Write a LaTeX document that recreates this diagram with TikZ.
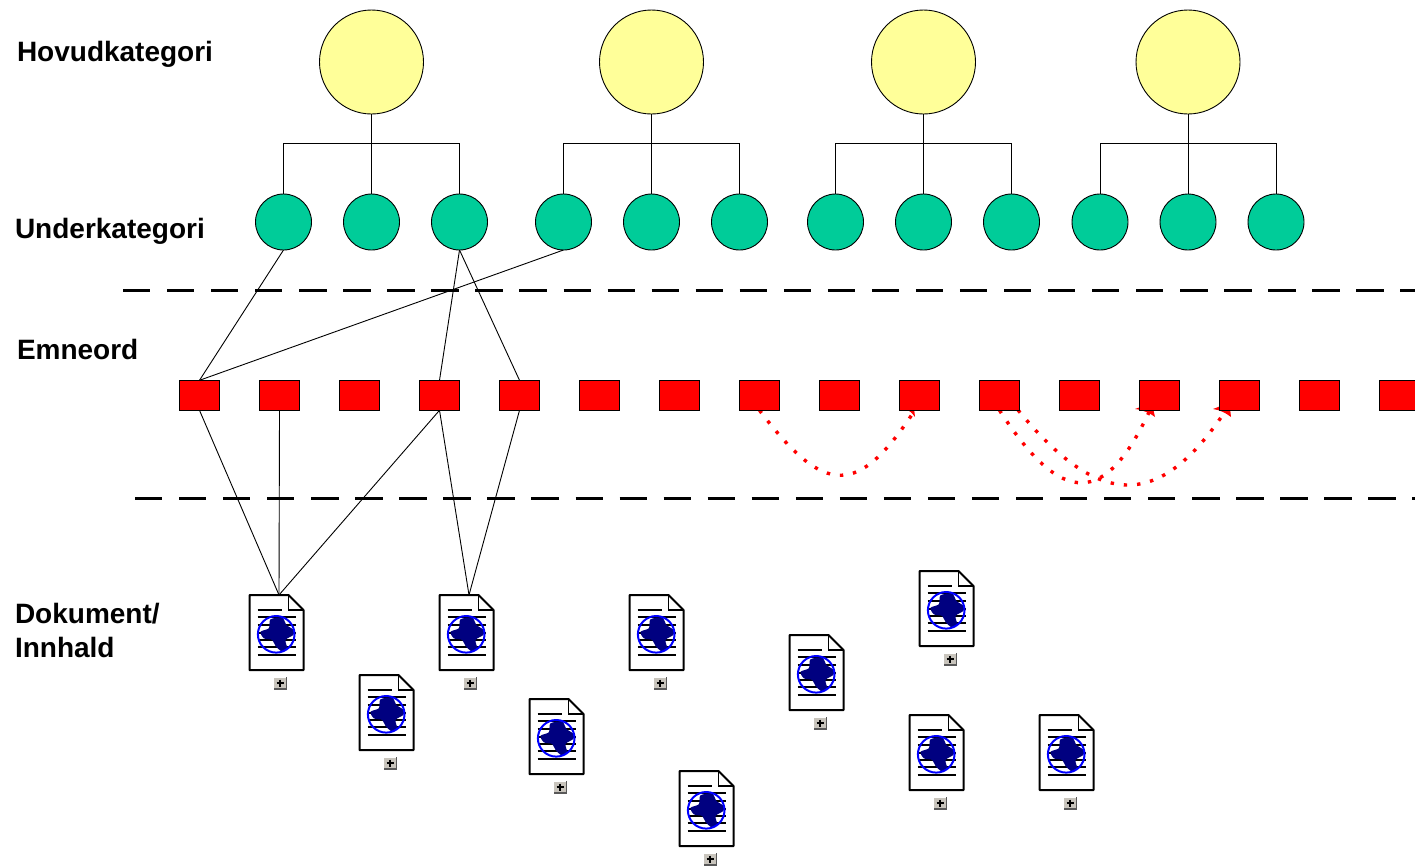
\documentclass[tikz,border=0pt]{standalone}
\usepackage{fontspec}
\setmainfont{Liberation Sans}
\usetikzlibrary{arrows.meta,backgrounds}
\definecolor{catyellow}{HTML}{FFFF99}
\definecolor{catgreen}{HTML}{00CC99}
\definecolor{btngray}{HTML}{C8C4BC}
\definecolor{landblue}{HTML}{000080}
\tikzset{
  lbl/.style={font=\fontsize{28}{34}\selectfont\bfseries,anchor=west,inner sep=0pt,outer sep=0pt,align=left},
  maincat/.style={circle,draw=black,line width=0.9pt,fill=catyellow,minimum size=104pt,inner sep=0pt,outer sep=0pt},
  subcat/.style={circle,draw=black,line width=0.9pt,fill=catgreen,minimum size=56pt,inner sep=0pt,outer sep=0pt},
  term/.style={rectangle,draw=black,line width=1.1pt,fill=red,minimum width=40pt,minimum height=30pt,inner sep=0pt,outer sep=0pt},
  link/.style={draw=black,line width=0.9pt},
  sep/.style={draw=black,line width=3pt,dash pattern=on 27.3pt off 16.75pt},
  rel/.style={draw=red,line width=3.4pt,dash pattern=on 3.4pt off 9.9pt},
  docanchor/.style={rectangle,minimum width=55pt,minimum height=75pt,inner sep=0pt,outer sep=0pt},
  docicon/.pic={
    \draw[black,line width=2pt,fill=white,line join=round] (0,0)--(39,0)--(54,15)--(54,75)--(0,75)--cycle;
    \draw[black,line width=1.5pt] (39,0)--(39,15)--(54,15);
    \draw[black,line width=2pt] (8,14.5)--(32,14.5);
    \foreach \yy in {22,30,38,45,52,60}{\draw[black,line width=2pt] (8,\yy)--(46,\yy);}
    \fill[landblue] plot[smooth cycle,tension=0.45] coordinates {(21,24.3)(32.7,22.7)(37,30)(44.3,35)(43.7,40)(36,45)(37.7,53.3)(32.7,56.7)(26,51)(22.7,45)(14.3,43.3)(11,36.7)(19.3,33.3)};
    \draw[blue,line width=2pt] (26.7,39.3) circle[radius=18.3];
    \fill[btngray] (24,82)rectangle(37,94);
    \draw[white,line width=0.8pt] (24,94)--(24,82)--(37,82);
    \draw[black!65,line width=1.2pt] (37,82)--(37,94)--(24,94);
    \draw[black,line width=2.4pt] (27,88)--(34,88) (30.5,84.5)--(30.5,91.5);
  }
}
\begin{document}
\begin{tikzpicture}[x=1pt,y=-1pt]
\useasboundingbox (0,0) rectangle (1415,865);

\node[lbl] (l1) at (17,54) {Hovudkategori};
\node[lbl] (l2) at (15,231) {Underkategori};
\node[lbl] (l3) at (17,349) {Emneord};
\node[lbl] (l4) at (15,630.5) {Dokument/\\Innhald};

\foreach \n/\x in {1/371.5,2/651.5,3/923.5,4/1188}
  \node[maincat] (m\n) at (\x,62) {};
\foreach \n/\x in {1/283.5,2/371.5,3/459.5,4/563.5,5/651.5,6/739.5,7/835.5,8/923.5,9/1011.5,10/1100,11/1188,12/1276}
  \node[subcat] (g\n) at (\x,222) {};
\foreach \n/\x in {1/199.5,2/279.5,3/359.5,4/439.5,5/519.5,6/599.5,7/679.5,8/759.5,9/839.5,10/919.5,11/999.5,12/1079.5,13/1159.5,14/1239.5,15/1319.5,16/1399.5}
  \node[term] (t\n) at (\x,395.3) {};

\coordinate (b1) at (371.5,143.5);
\coordinate (b2) at (651.5,143.5);
\coordinate (b3) at (923.5,143.5);
\coordinate (b4) at (1188,143.5);
\draw[link] (m1.south)--(b1) (g1.north)|-(b1) (b1)-|(g3.north) (b1)--(g2.north);
\draw[link] (m2.south)--(b2) (g4.north)|-(b2) (b2)-|(g6.north) (b2)--(g5.north);
\draw[link] (m3.south)--(b3) (g7.north)|-(b3) (b3)-|(g9.north) (b3)--(g8.north);
\draw[link] (m4.south)--(b4) (g10.north)|-(b4) (b4)-|(g12.north) (b4)--(g11.north);

\coordinate (s1a) at (123,290);
\coordinate (s1b) at (1415,290);
\coordinate (s2a) at (135,498);
\coordinate (s2b) at (1415,498);
\draw[sep] (s1a)--(s1b);
\draw[sep] (s2a)--(s2b);

\draw[link] (g1.south)--(t1.north);
\draw[link] (g4.south)--(t1.north);
\draw[link] (g3.south)--(t4.north);
\draw[link] (g3.south)--(t5.north);

\foreach \n/\x/\y in {1/249.5/595,2/439.5/595,3/629.5/595,4/359.5/675,5/529.5/699,6/789.5/635,7/919.5/571,8/679.5/771,9/909.5/715,10/1039.5/715}{
  \pic at (\x,\y) {docicon};
  \node[docanchor] (d\n) at (\x+29.5,\y+37.5) {};
}

\draw[link] (t1.south)--(d1.north);
\draw[link] (t2.south)--(d1.north);
\draw[link] (t4.south)--(d1.north);
\draw[link] (t4.south)--(d2.north);
\draw[link] (t5.south)--(d2.north);

\coordinate (e10) at (915,410);
\coordinate (e13) at (1150,410);
\coordinate (e14) at (1226,410);
\coordinate (s11) at (1018,410);
\coordinate (h10) at (923,399);
\coordinate (h13) at (1162,399);
\coordinate (h14) at (1239,399);
\begin{scope}[on background layer]
\draw[rel] (t8.south) .. controls (825,497) and (858,497) .. (e10);
\draw[rel] (t11.south) .. controls (1062,507) and (1105,507) .. (e13);
\draw[rel] (s11) .. controls (1100,510) and (1160,510) .. (e14);
\fill[red] (h10) -- (905,409) .. controls (909,410) and (912,413) .. (915,417) -- (914,408) -- cycle;
\fill[red] (h13) -- (1135,409) .. controls (1143,410) and (1150,413) .. (1155,417) -- (1153,408) -- cycle;
\fill[red] (h14) -- (1213,409) .. controls (1220,410) and (1226,413) .. (1231,417) -- (1230,408) -- cycle;
\end{scope}
\end{tikzpicture}
\end{document}
